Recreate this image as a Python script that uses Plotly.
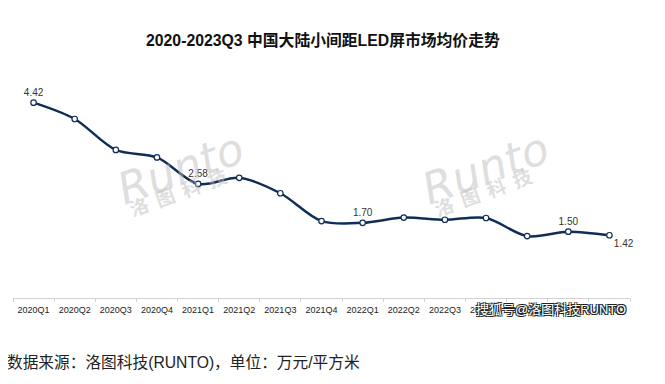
import plotly.graph_objects as go

quarters = ["2020Q1", "2020Q2", "2020Q3", "2020Q4", "2021Q1", "2021Q2", "2021Q3", "2021Q4",
            "2022Q1", "2022Q2", "2022Q3", "2022Q4", "2023Q1", "2023Q2", "2023Q3"]
avg_price = [4.42, 4.05, 3.35, 3.18, 2.58, 2.72, 2.37, 1.74,
             1.70, 1.82, 1.77, 1.81, 1.40, 1.50, 1.42]
labeled_idx = [0, 4, 8, 13, 14]

title_text = "2020-2023Q3 中国大陆小间距LED屏市场均价走势"
source_text = "数据来源：洛图科技(RUNTO)，单位：万元/平方米"
sohu_text = "搜狐号@洛图科技RUNTO"

labels = [f"{v:.2f}" if i in labeled_idx else "" for i, v in enumerate(avg_price)]
positions = ["top center"] * len(avg_price)
positions[-1] = "bottom right"

NAVY = "#0f2d57"
FONT = "Liberation Sans, Noto Sans CJK SC, sans-serif"

fig = go.Figure()
fig.add_trace(go.Scatter(
    x=quarters, y=avg_price, mode="lines+markers+text",
    line=dict(color=NAVY, width=2.5, shape="spline", smoothing=0.9),
    marker=dict(size=5.5, color="white", line=dict(color=NAVY, width=1.2)),
    text=labels, textposition=positions,
    textfont=dict(family=FONT, size=10, color="#333333"),
    cliponaxis=False, hoverinfo="skip", showlegend=False,
))

# faint RUNTO watermarks
for cx in [0.271, 0.765]:
    fig.add_annotation(xref="paper", yref="paper", x=cx, y=0.588, xanchor="center", yanchor="middle",
                       text="Runto", showarrow=False, textangle=-20,
                       font=dict(family="DejaVu Sans", size=44, color="rgba(190,190,190,0.5)", style="italic"))
    fig.add_annotation(xref="paper", yref="paper", x=cx - 0.004, y=0.48, xanchor="center", yanchor="middle",
                       text="洛  图  科  技", showarrow=False, textangle=-20,
                       font=dict(family="Noto Sans CJK SC", size=19, color="rgba(190,190,190,0.5)", weight="bold"))

fig.add_annotation(xref="paper", yref="paper", x=0.503, y=1, yshift=37, yanchor="middle", xanchor="center",
                   text=f"<b>{title_text}</b>", showarrow=False,
                   font=dict(family=FONT, size=15.8, color="#111111"))
fig.add_annotation(xref="paper", yref="paper", x=-0.013, xanchor="left", y=0, yshift=-64, yanchor="middle",
                   text=source_text, showarrow=False,
                   font=dict(family=FONT, size=15.7, color="#222222"))
fig.add_annotation(xref="paper", yref="paper", x=0.997, xanchor="right", y=0, yshift=-11, yanchor="middle",
                   text=sohu_text, showarrow=False,
                   font=dict(family=FONT, size=13, color="white",
                             shadow="1px 1px 0 #222, -1px -1px 0 #222, 1px -1px 0 #222, -1px 1px 0 #222"))

# the page body adds an 8px offset, so margins are shifted to compensate
fig.update_layout(
    width=665, height=384,
    margin=dict(l=5, r=43, t=69, b=94),
    paper_bgcolor="white", plot_bgcolor="white",
    xaxis=dict(type="category", range=[-0.5, 14.5], showgrid=False,
               showline=True, linecolor="#d3d3d3", linewidth=1,
               ticks="outside", tickson="boundaries", ticklen=3, tickcolor="#d3d3d3",
               ticklabelstandoff=3,
               tickfont=dict(family=FONT, size=9, color="#222222"), fixedrange=True),
    yaxis=dict(range=[0, 5], visible=False, fixedrange=True),
)

fig.write_html("out.html")
